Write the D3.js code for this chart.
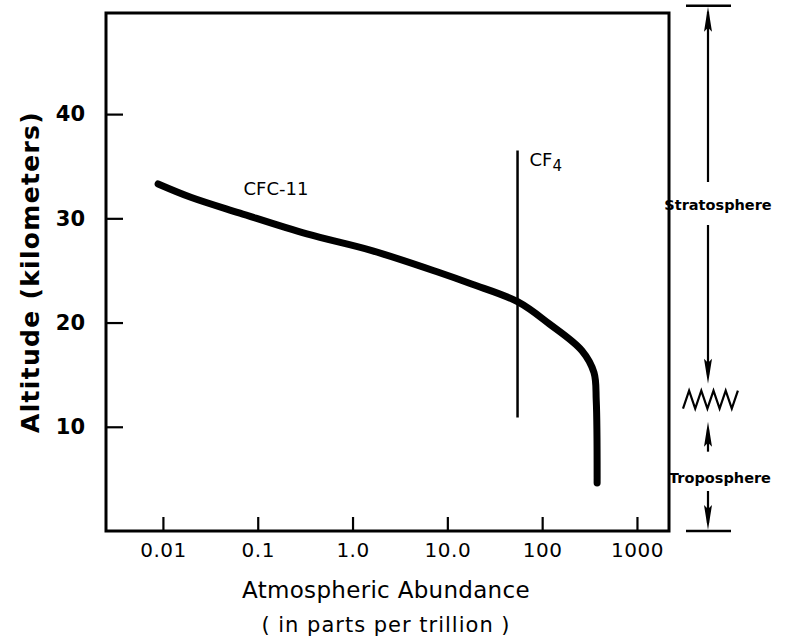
<!DOCTYPE html>
<html>
<head>
<meta charset="utf-8">
<script src="https://cdn.jsdelivr.net/npm/d3@7"></script>
<style>
  body { margin: 0; background: #fff; }
  text { font-family: "DejaVu Sans", "Liberation Sans", sans-serif; fill: #000; }
</style>
</head>
<body>
<svg id="chart" width="792" height="640"></svg>
<script>
// ---- data ----
const xTicks = [0.01, 0.1, 1, 10, 100, 1000];
const xTickLabels = ["0.01", "0.1", "1.0", "10.0", "100", "1000"];
const yTicks = [10, 20, 30, 40];
const yTickLabels = ["10", "20", "30", "40"];

// CFC-11 profile: abundance (ppt) vs altitude (km)
const cfcAbundance = [0.0089, 0.02, 0.065, 0.33, 1.6, 8.2, 18, 55, 118, 263, 352, 372, 380];
const cfcAltitude  = [33.3, 32.0, 30.5, 28.5, 26.9, 24.8, 23.7, 22.0, 19.9, 17.3, 15.2, 12.5, 4.6];

// CF4 profile (constant mixing ratio)
const cf4Abundance = [55, 55];
const cf4Altitude  = [36.5, 10.9];

// atmosphere layers (km)
const tropopause = 12.6;
const atmosTop = 50.4;
const atmosBottom = 0;

// ---- layout ----
const svg = d3.select("#chart");
const pL = 106, pR = 669, pT = 13, pB = 531;

const x = d3.scaleLog().domain([0.00251, 2177]).range([pL, pR]);
const y = d3.scaleLinear().domain([0, 49.7]).range([pB, pT]);

// frame
svg.append("rect")
  .attr("x", pL).attr("y", pT)
  .attr("width", pR - pL).attr("height", pB - pT)
  .attr("fill", "none").attr("stroke", "#000").attr("stroke-width", 3);

// x axis ticks (inward)
const xAxis = d3.axisBottom(x).tickValues(xTicks).tickSize(-14).tickPadding(26)
  .tickFormat((d, i) => xTickLabels[i]);
const gx = svg.append("g").attr("transform", `translate(0,${pB})`).call(xAxis);
gx.select(".domain").remove();
gx.selectAll(".tick line").attr("stroke", "#000").attr("stroke-width", 2.2);
gx.selectAll(".tick text").attr("font-size", 20).attr("dy", "0")
  .style("font-family", "'DejaVu Sans', sans-serif").style("letter-spacing", "0.5px");

// y axis ticks (inward)
const yAxis = d3.axisLeft(y).tickValues(yTicks).tickSize(-17).tickPadding(21)
  .tickFormat((d, i) => yTickLabels[i]);
const gy = svg.append("g").attr("transform", `translate(${pL},0)`).call(yAxis);
gy.select(".domain").remove();
gy.selectAll(".tick line").attr("stroke", "#000").attr("stroke-width", 2.2);
gy.selectAll(".tick text").attr("font-size", 21).attr("font-weight", "bold").style("font-family", "'DejaVu Sans', sans-serif");

// axis titles
svg.append("text")
  .attr("transform", `translate(39,272) rotate(-90)`)
  .attr("text-anchor", "middle").attr("font-size", 25).attr("font-weight", "bold")
  .style("letter-spacing", "1.3px")
  .text("Altitude (kilometers)");
svg.append("text")
  .attr("x", 386).attr("y", 598).attr("text-anchor", "middle").attr("font-size", 23)
  .style("letter-spacing", "0.3px")
  .text("Atmospheric Abundance");
svg.append("text")
  .attr("x", 386).attr("y", 632).attr("text-anchor", "middle").attr("font-size", 21)
  .style("letter-spacing", "1px")
  .text("( in parts per trillion )");

// CFC-11 curve
const cfcData = cfcAbundance.map((v, i) => ({ v, h: cfcAltitude[i] }));
svg.append("path")
  .datum(cfcData)
  .attr("d", d3.line().x(d => x(d.v)).y(d => y(d.h)).curve(d3.curveCatmullRom.alpha(0.5)))
  .attr("fill", "none").attr("stroke", "#000").attr("stroke-width", 7)
  .attr("stroke-linecap", "round").attr("stroke-linejoin", "round");

// CF4 line
const cf4Data = cf4Abundance.map((v, i) => ({ v, h: cf4Altitude[i] }));
svg.append("path")
  .datum(cf4Data)
  .attr("d", d3.line().x(d => x(d.v)).y(d => y(d.h)))
  .attr("fill", "none").attr("stroke", "#000").attr("stroke-width", 2.5);

// labels
svg.append("text").attr("x", 276).attr("y", 195).attr("text-anchor", "middle")
  .attr("font-size", 18).text("CFC-11");
const cf4t = svg.append("text").attr("x", x(55) + 12).attr("y", 166).attr("font-size", 18);
cf4t.append("tspan").text("CF");
cf4t.append("tspan").attr("dy", 5).attr("font-size", 15).text("4");

// right-side atmosphere annotation
const ax = 708;
function head(yTip, dir) {
  // dir = -1 pointing up, +1 pointing down
  const L = 25, W = 4, notch = 4;
  svg.append("path")
    .attr("d", `M${ax},${yTip} L${ax - W},${yTip - dir * L} L${ax},${yTip - dir * (L - notch)} L${ax + W},${yTip - dir * L} Z`)
    .attr("fill", "#000");
}
function vline(y1, y2) {
  svg.append("line").attr("x1", ax).attr("x2", ax).attr("y1", y1).attr("y2", y2)
    .attr("stroke", "#000").attr("stroke-width", 2.2);
}
// bars
svg.append("line").attr("x1", 686).attr("x2", 731).attr("y1", y(atmosTop)).attr("y2", y(atmosTop))
  .attr("stroke", "#000").attr("stroke-width", 2.5);
svg.append("line").attr("x1", 686).attr("x2", 731).attr("y1", y(atmosBottom)).attr("y2", y(atmosBottom))
  .attr("stroke", "#000").attr("stroke-width", 2.5);
// stratosphere arrows
vline(y(atmosTop) + 6, 182);
head(y(atmosTop) + 1, -1);
svg.append("text").attr("x", 718).attr("y", 210).attr("text-anchor", "middle")
  .attr("font-size", 14.5).attr("font-weight", "bold").text("Stratosphere");
const tpY = y(tropopause);
vline(225, tpY - 25);
head(tpY - 16, 1);
// zigzag
const zz = [];
for (let i = 0; i <= 9; i++) zz.push([683 + i * 6.1, tpY + (i % 2 === 0 ? 9 : -9)]);
svg.append("path").attr("d", d3.line()(zz)).attr("fill", "none").attr("stroke", "#000")
  .attr("stroke-width", 2.2).attr("stroke-linejoin", "miter");
// troposphere arrows
vline(tpY + 30, tpY + 52);
head(tpY + 22, -1);
svg.append("text").attr("x", 720).attr("y", 483).attr("text-anchor", "middle")
  .attr("font-size", 14.5).attr("font-weight", "bold").text("Troposphere");
vline(491, y(atmosBottom) - 8);
head(y(atmosBottom) - 1, 1);
</script>
</body>
</html>
